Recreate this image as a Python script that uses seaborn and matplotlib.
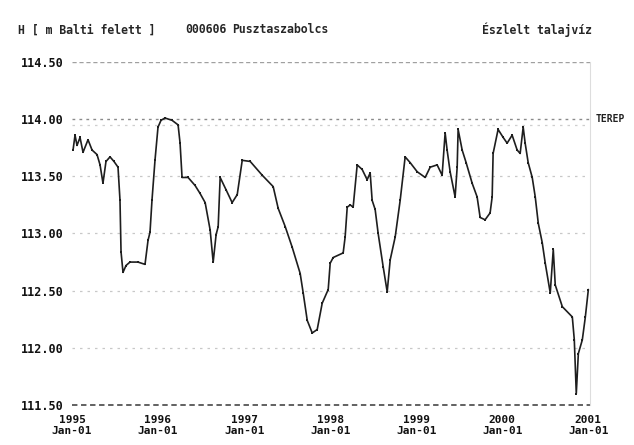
import matplotlib
matplotlib.use("Agg")
import matplotlib.pyplot as plt
import matplotlib.transforms as mtransforms
import seaborn as sns
import pandas as pd

years = [
    1995.012, 1995.035, 1995.058, 1995.093, 1995.128, 1995.186, 1995.233, 1995.291,
    1995.326, 1995.360, 1995.395, 1995.442, 1995.488, 1995.535, 1995.558, 1995.570,
    1995.593, 1995.628, 1995.674, 1995.767, 1995.849, 1995.884, 1995.907, 1995.930,
    1995.965, 1996.000, 1996.035, 1996.081, 1996.163, 1996.233, 1996.256, 1996.279,
    1996.349, 1996.430, 1996.488, 1996.547, 1996.605, 1996.640, 1996.674, 1996.698,
    1996.721, 1996.791, 1996.860, 1996.919, 1996.977, 1997.070, 1997.209, 1997.337,
    1997.395, 1997.477, 1997.558, 1997.651, 1997.686, 1997.733, 1997.791, 1997.849,
    1997.907, 1997.977, 1998.000, 1998.035, 1998.151, 1998.174, 1998.198, 1998.233,
    1998.267, 1998.314, 1998.372, 1998.430, 1998.465, 1998.488, 1998.523, 1998.558,
    1998.616, 1998.663, 1998.698, 1998.756, 1998.814, 1998.872, 1998.930, 1999.012,
    1999.105, 1999.163, 1999.244, 1999.302, 1999.337, 1999.360, 1999.395, 1999.453,
    1999.477, 1999.488, 1999.535, 1999.581, 1999.651, 1999.709, 1999.744, 1999.802,
    1999.860, 1999.884, 1999.895, 1999.953, 2000.012, 2000.058, 2000.116, 2000.174,
    2000.209, 2000.244, 2000.267, 2000.302, 2000.349, 2000.384, 2000.419, 2000.465,
    2000.500, 2000.558, 2000.593, 2000.616, 2000.698, 2000.814, 2000.837, 2000.860,
    2000.884, 2000.930, 2000.965, 2001.000,
]

# Groundwater level, m above Baltic sea level
levels = [
    113.73, 113.86, 113.77, 113.84, 113.71, 113.82, 113.73, 113.69,
    113.60, 113.44, 113.63, 113.67, 113.63, 113.58, 113.29, 112.84,
    112.66, 112.72, 112.75, 112.75, 112.73, 112.94, 113.01, 113.29,
    113.64, 113.93, 113.99, 114.01, 113.99, 113.95, 113.79, 113.49,
    113.49, 113.42, 113.35, 113.27, 113.03, 112.75, 112.99, 113.06,
    113.49, 113.38, 113.27, 113.34, 113.64, 113.63, 113.51, 113.41,
    113.22, 113.06, 112.88, 112.65, 112.48, 112.24, 112.13, 112.16,
    112.39, 112.51, 112.74, 112.79, 112.83, 112.97, 113.23, 113.25,
    113.23, 113.60, 113.56, 113.47, 113.53, 113.29, 113.21, 113.00,
    112.71, 112.49, 112.77, 112.97, 113.29, 113.67, 113.62, 113.54,
    113.49, 113.58, 113.60, 113.51, 113.88, 113.73, 113.54, 113.32,
    113.58, 113.91, 113.73, 113.62, 113.44, 113.32, 113.14, 113.12,
    113.18, 113.32, 113.70, 113.91, 113.84, 113.79, 113.86, 113.73,
    113.70, 113.93, 113.79, 113.62, 113.49, 113.32, 113.09, 112.92,
    112.74, 112.48, 112.86, 112.55, 112.36, 112.27, 112.07, 111.60,
    111.95, 112.07, 112.27, 112.51,
]

y_ticks = [111.5, 112.0, 112.5, 113.0, 113.5, 114.0, 114.5]
x_tick_years = [1995, 1996, 1997, 1998, 1999, 2000, 2001]
terep_level = 113.95


def decimal_to_date(y):
    start = pd.Timestamp(int(y), 1, 1)
    end = pd.Timestamp(int(y) + 1, 1, 1)
    return start + (end - start) * (y - int(y))


df = pd.DataFrame({
    "date": [decimal_to_date(y) for y in years],
    "level": levels,
})

sns.set_theme(style="white")
plt.rcParams["font.family"] = ["DejaVu Sans Mono", "DejaVu Sans"]
plt.rcParams["font.weight"] = "bold"

fig = plt.figure(figsize=(6.34, 4.45), dpi=100)
ax = fig.add_axes([0.1136, 0.0899, 0.8170, 0.7708])

# horizontal reference lines
for v in [112.0, 112.5, 113.0, 113.5]:
    ax.axhline(v, color="#c8c8c8", lw=0.9, ls=(0, (2, 4)), zorder=1)
ax.axhline(114.5, color="#a0a0a0", lw=1.0, ls=(0, (3, 2)), zorder=1)
ax.axhline(114.0, color="#8a8a8a", lw=1.0, ls=(0, (2, 3)), zorder=1)
ax.axhline(terep_level, color="#cfcfcf", lw=0.9, ls=(0, (2, 4)), zorder=1)
ax.axhline(111.5, color="#555555", lw=1.3, ls=(0, (3, 2)), zorder=2, clip_on=False)

sns.lineplot(data=df, x="date", y="level", ax=ax, color="#1e1e1e",
             lw=1.2, marker="s", markersize=1.8, markeredgewidth=0, zorder=3)

ax.set_xlim(pd.Timestamp("1995-01-01"), pd.Timestamp("2001-01-08"))
ax.set_ylim(111.5, 114.5)

ax.set_yticks(y_ticks)
ax.set_yticklabels([f"{v:.2f}" for v in y_ticks], fontsize=8.5, fontweight="bold")
ax.set_xticks([pd.Timestamp(y, 1, 1) for y in x_tick_years])
ax.set_xticklabels([f"{y}\nJan-01" for y in x_tick_years], fontsize=8, fontweight="bold",
                   linespacing=1.15)
ax.tick_params(axis="both", length=0, colors="#111111")
ax.tick_params(axis="y", pad=6)
ax.tick_params(axis="x", pad=7)

for side in ["top", "left", "bottom"]:
    ax.spines[side].set_visible(False)
ax.spines["right"].set_color("#dddddd")
ax.spines["right"].set_linewidth(0.8)

ax.set_xlabel("")
ax.set_ylabel("")
ax.grid(False)

trans = mtransforms.blended_transform_factory(ax.transAxes, ax.transData)
ax.text(1.01, 114.0, "TEREP", transform=trans, fontsize=7, fontweight="bold",
        va="center", ha="left", color="#222222", clip_on=False)

fig.text(0.028, 0.933, "H [ m Balti felett ]", fontsize=8.3, fontweight="bold", va="center")
fig.text(0.292, 0.933, "000606", fontsize=8.3, fontweight="bold", va="center")
fig.text(0.366, 0.933, "Pusztaszabolcs", fontsize=8.3, fontweight="bold", va="center")
fig.text(0.760, 0.933, "Észlelt talajvíz", fontsize=8.3, fontweight="bold", va="center")

fig.savefig("out.png", dpi=100)
